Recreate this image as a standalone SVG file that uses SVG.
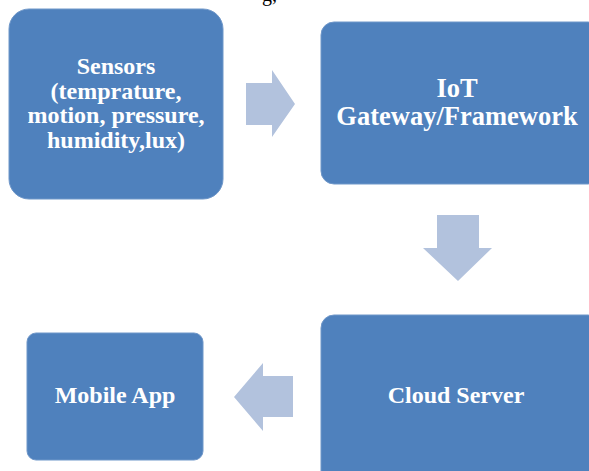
<svg xmlns="http://www.w3.org/2000/svg" width="589" height="471" viewBox="0 0 589 471">
<style>
.box{fill:#4F81BD;stroke:#6F97C9;stroke-width:1}
.arrow{fill:#B2C2DD}
.lbl{font-family:"Liberation Serif","Times New Roman",serif;font-weight:bold;fill:#FFFFFF;text-anchor:middle}
</style>
<rect width="589" height="471" fill="#FFFFFF"/>
<text x="262" y="0.5" font-family="Liberation Serif, serif" font-size="20" fill="#000">g,</text>
<g id="connectors">
<polygon class="arrow" points="246,83 272,83 272,70 295,104 272,137 272,125 246,125"/>
<polygon class="arrow" points="437,215 479,215 479,248 492,248 458,281 423,248 437,248"/>
<polygon class="arrow" points="293,376 263,376 263,363 234,397 263,431 263,417 293,417"/>
</g>
<g id="sensors">
<rect class="box" x="9" y="9" width="214" height="190" rx="20"/>
<text class="lbl" font-size="24" x="116"><tspan x="116" y="74">Sensors</tspan><tspan x="116" y="99">(temprature,</tspan><tspan x="116" y="123">motion, pressure,</tspan><tspan x="116" y="148">humidity,lux)</tspan></text>
</g>
<g id="gateway">
<rect class="box" x="321" y="22" width="280" height="162" rx="13"/>
<text class="lbl" font-size="26.5"><tspan x="457" y="97">IoT</tspan><tspan x="457" y="125">Gateway/Framework</tspan></text>
</g>
<g id="cloud">
<rect class="box" x="321" y="315" width="280" height="170" rx="13"/>
<text class="lbl" font-size="24" x="456" y="403">Cloud Server</text>
</g>
<g id="mobile">
<rect class="box" x="27" y="333" width="176" height="127" rx="9"/>
<text class="lbl" font-size="24" x="115" y="403">Mobile App</text>
</g>
</svg>
